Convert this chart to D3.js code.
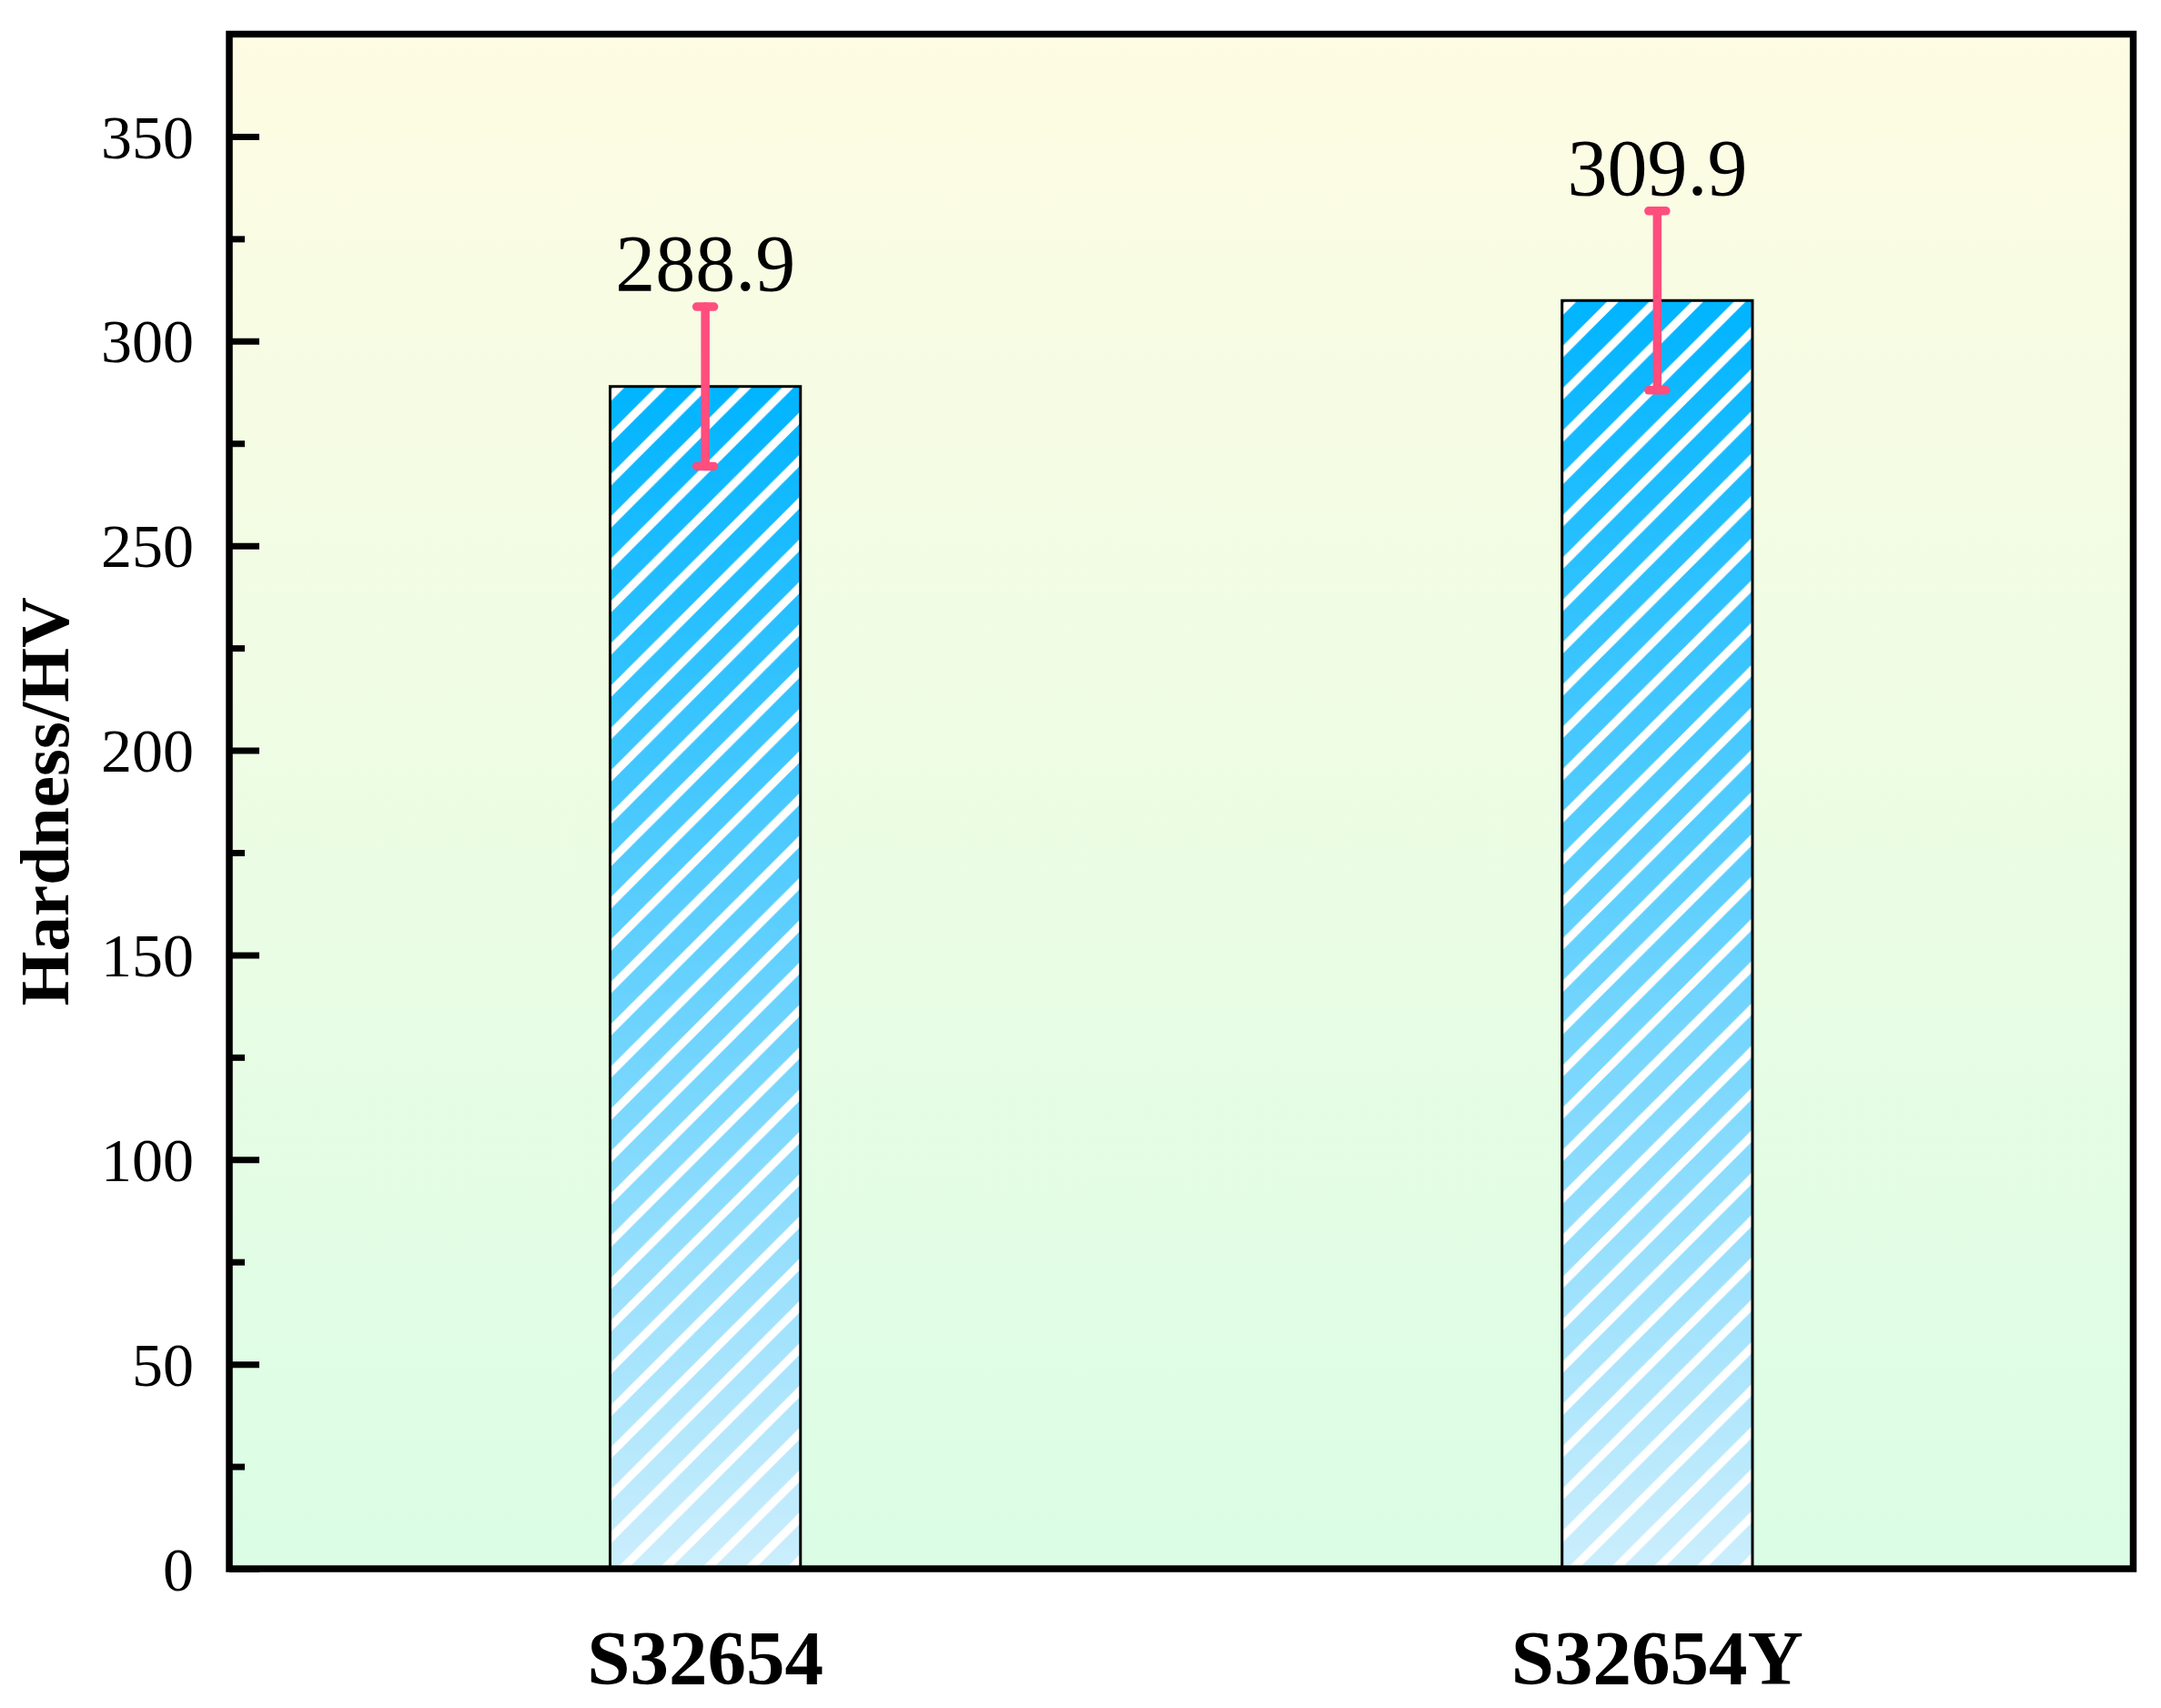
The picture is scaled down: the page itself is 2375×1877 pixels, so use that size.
<!DOCTYPE html>
<html>
<head>
<meta charset="utf-8">
<script src="https://cdn.jsdelivr.net/npm/d3@7"></script>
<style>
  html, body { margin: 0; padding: 0; background: #ffffff; }
  svg { display: block; }
  text { font-family: "Liberation Serif", "Times New Roman", serif; fill: #000; }
</style>
</head>
<body>
<script>
// ---- data ----
const categories = ["S32654", "S32654Y"];
const hardness = [288.9, 309.9];
const errors = [19.5, 21.9];
const valueLabels = ["288.9", "309.9"];
const majorTicks = [0, 50, 100, 150, 200, 250, 300, 350];
const minorTicks = [25, 75, 125, 175, 225, 275, 325];
const yTitle = "Hardness/HV";

// ---- layout ----
const W = 2375, H = 1877;
const margin = { left: 252, top: 37.5, right: 2375 - 2344.5, bottom: 1877 - 1724 };
const pw = W - margin.left - margin.right;
const ph = H - margin.top - margin.bottom;

const svg = d3.select("body").append("svg").attr("width", W).attr("height", H);
const defs = svg.append("defs");

const bg = defs.append("linearGradient").attr("id", "bgGrad")
  .attr("x1", 0).attr("y1", 0).attr("x2", 0).attr("y2", 1);
bg.append("stop").attr("offset", "0%").attr("stop-color", "#FEFCE3");
bg.append("stop").attr("offset", "100%").attr("stop-color", "#DBFDE5");

const barGrad = defs.append("linearGradient").attr("id", "barGrad")
  .attr("x1", 0).attr("y1", 0).attr("x2", 0).attr("y2", 1);
barGrad.append("stop").attr("offset", "0%").attr("stop-color", "#00B4FF");
barGrad.append("stop").attr("offset", "100%").attr("stop-color", "#CBEEFC");

const g = svg.append("g").attr("transform", `translate(${margin.left},${margin.top})`);

const x = d3.scalePoint().domain(categories).range([0, pw]).padding(0.5);
const y = d3.scaleLinear().domain([0, 375]).range([ph, 0]);
const barW = x.step() * 0.2;

// plot background
g.append("rect").attr("x", 0).attr("y", 0).attr("width", pw).attr("height", ph)
  .attr("fill", "url(#bgGrad)");

// x ticks (inward, hidden mostly behind bars)
g.append("g").attr("transform", `translate(0,${ph})`)
  .call(d3.axisBottom(x).tickSize(-30).tickFormat(""))
  .call(s => s.select(".domain").remove())
  .call(s => s.selectAll(".tick line").attr("stroke", "#000").attr("stroke-width", 7));

// hatch patterns per bar
const w = 46.5;
categories.forEach((c, i) => {
  const p = defs.append("pattern").attr("id", "hatch" + i)
    .attr("patternUnits", "userSpaceOnUse")
    .attr("x", margin.left + x(c) - barW / 2)
    .attr("y", margin.top + y(hardness[i]))
    .attr("width", w).attr("height", w);
  p.append("path")
    .attr("d", `M${-w/4},${w/4} L${w/4},${-w/4} M0,${w} L${w},0 M${3*w/4},${5*w/4} L${5*w/4},${3*w/4}`)
    .attr("stroke", "#fff").attr("stroke-width", 9).attr("fill", "none");
});

// bars
const bars = g.selectAll(".bar").data(categories).join("g").attr("class", "bar");
bars.append("rect")
  .attr("x", d => x(d) - barW / 2)
  .attr("y", (d, i) => y(hardness[i]))
  .attr("width", barW)
  .attr("height", (d, i) => y(0) - y(hardness[i]))
  .attr("fill", "url(#barGrad)");
bars.append("rect")
  .attr("x", d => x(d) - barW / 2)
  .attr("y", (d, i) => y(hardness[i]))
  .attr("width", barW)
  .attr("height", (d, i) => y(0) - y(hardness[i]))
  .attr("fill", (d, i) => `url(#hatch${i})`)
  .attr("stroke", "#000").attr("stroke-width", 3);

// error bars
const errColor = "#FF4D7E";
const capHalf = 9.5;
const eb = g.selectAll(".err").data(categories).join("g").attr("class", "err")
  .attr("stroke", errColor).attr("stroke-width", 9.5).attr("stroke-linecap", "round");
eb.append("line")
  .attr("x1", d => x(d)).attr("x2", d => x(d))
  .attr("y1", (d, i) => y(hardness[i] - errors[i]))
  .attr("y2", (d, i) => y(hardness[i] + errors[i]));
eb.append("line")
  .attr("x1", d => x(d) - capHalf).attr("x2", d => x(d) + capHalf)
  .attr("y1", (d, i) => y(hardness[i] + errors[i]))
  .attr("y2", (d, i) => y(hardness[i] + errors[i]));
eb.append("line")
  .attr("x1", d => x(d) - capHalf).attr("x2", d => x(d) + capHalf)
  .attr("y1", (d, i) => y(hardness[i] - errors[i]))
  .attr("y2", (d, i) => y(hardness[i] - errors[i]));

// value labels
g.selectAll(".vlab").data(categories).join("text").attr("class", "vlab")
  .attr("x", d => x(d))
  .attr("y", (d, i) => y(hardness[i] + errors[i]) - 18)
  .attr("text-anchor", "middle")
  .attr("font-size", 88)
  .text((d, i) => valueLabels[i]);

// y axis major ticks + labels
const yAxis = g.append("g")
  .call(d3.axisLeft(y).tickValues(majorTicks).tickSize(-33).tickPadding(39).tickFormat(d3.format("d")));
yAxis.select(".domain").remove();
yAxis.selectAll(".tick line").attr("stroke", "#000").attr("stroke-width", 7);
yAxis.selectAll(".tick text")
  .style("font-family", '"Liberation Serif", "Times New Roman", serif')
  .attr("font-size", 68).attr("dy", "0.34em");

// minor ticks
const yMinor = g.append("g")
  .call(d3.axisLeft(y).tickValues(minorTicks).tickSize(-17).tickFormat(""));
yMinor.select(".domain").remove();
yMinor.selectAll(".tick line").attr("stroke", "#000").attr("stroke-width", 7);

// frame
g.append("rect").attr("x", 0).attr("y", 0).attr("width", pw).attr("height", ph)
  .attr("fill", "none").attr("stroke", "#000").attr("stroke-width", 7.5);

// x category labels
g.selectAll(".xlab").data(categories).join("text").attr("class", "xlab")
  .attr("x", d => x(d))
  .attr("y", 1851 - margin.top)
  .attr("text-anchor", "middle")
  .attr("font-size", 85).attr("font-weight", "bold")
  .text(d => d);

// y title
svg.append("text")
  .attr("transform", `translate(75,${margin.top + ph / 2}) rotate(-90)`)
  .attr("text-anchor", "middle")
  .attr("font-size", 77).attr("font-weight", "bold")
  .text(yTitle);
</script>
</body>
</html>
